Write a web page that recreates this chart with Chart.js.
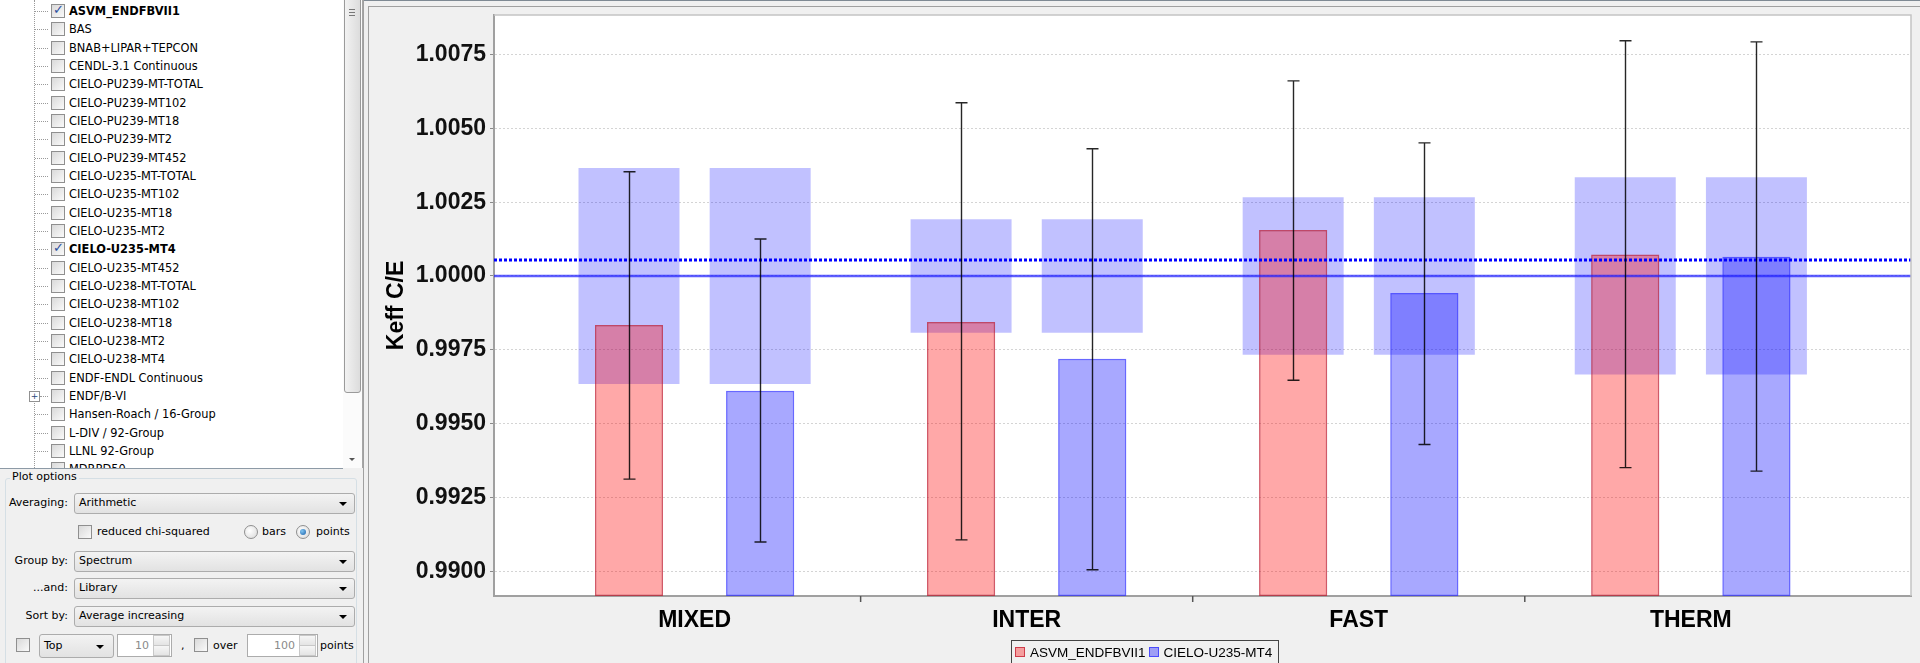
<!DOCTYPE html>
<html><head><meta charset="utf-8">
<script src="https://cdn.jsdelivr.net/npm/chart.js@4.4.1/dist/chart.umd.min.js"></script>
<style>
html,body{margin:0;padding:0;width:1920px;height:663px;overflow:hidden;background:#f0f0f0;font-family:"DejaVu Sans",sans-serif;font-size:11px;color:#000;}
.a{position:absolute;}
#tree{left:0;top:0;width:343px;height:468px;background:#fff;overflow:hidden;border-bottom:1px solid #8d9aa6;font-size:11.4px;}
.vdot{left:34px;top:0;height:468px;border-left:1px dotted #9a9a9a;}
.row{left:0;height:18px;width:343px;}
.hdot{left:35px;top:9px;width:13px;border-top:1px dotted #9a9a9a;}
.cb{width:12px;height:12px;border:1px solid #8f8f8f;background:linear-gradient(135deg,#d9d9d9,#fafafa);}
.cb .ck{position:absolute;left:1px;top:-3px;font-size:13px;color:#2b4f9e;font-weight:bold;}
.lbl{white-space:nowrap;}
.exp{left:29px;top:4px;width:9px;height:9px;border:1px solid #919191;background:#fff;font-size:9px;line-height:9px;text-align:center;color:#2a4a7a;}
#sb{left:343px;top:0;width:19px;height:468px;background:#fbfbfb;border-right:1px solid #a6a6a6;}
#thumb{left:1px;top:-3px;width:15px;height:394px;border:1px solid #9a9a9a;border-radius:3px;background:linear-gradient(90deg,#f2f2f2,#dcdcdc);}
.combo{height:19px;border:1px solid #acacac;border-radius:3px;background:linear-gradient(#f3f3f3,#e2e2e2);}
.combo span{position:absolute;left:4px;top:2px;white-space:nowrap;}
.arr{position:absolute;right:7px;top:8px;width:0;height:0;border-left:4px solid transparent;border-right:4px solid transparent;border-top:4px solid #000;}
.rlab{text-align:right;white-space:nowrap;}
.radio{width:12px;height:12px;border:1px solid #8f8f8f;border-radius:50%;background:radial-gradient(circle at 40% 40%,#fff,#d8d8d8);}
.spin{height:21px;border:1px solid #acacac;background:#fff;color:#8a8a8a;}
.spin .v{position:absolute;right:22px;top:4px;}
.spin .b{position:absolute;right:1px;width:15px;height:9px;border:1px solid #c8c8c8;background:linear-gradient(#f6f6f6,#e4e4e4);}
#chartwrap{left:370px;top:7px;width:1550px;height:656px;}
#legend{left:1011px;top:640px;width:266px;height:24px;border:1.5px solid #444;font-family:"Liberation Sans",Arial,sans-serif;font-size:13.5px;white-space:nowrap;}
#legend .sw{display:inline-block;width:8px;height:8px;vertical-align:middle;margin:0 5px 0 3px;position:relative;top:-1px;}
</style></head>
<body>
<div id="tree" class="a"><div class="a vdot"></div></div>
<div id="sb" class="a"><div id="thumb" class="a"></div>
  <div class="a" style="left:6px;top:9px;width:6px;border-top:1px solid #777;"></div>
  <div class="a" style="left:6px;top:12px;width:6px;border-top:1px solid #777;"></div>
  <div class="a" style="left:6px;top:15px;width:6px;border-top:1px solid #777;"></div>
  <div class="a" style="left:6px;top:458px;width:0;height:0;border-left:3px solid transparent;border-right:3px solid transparent;border-top:3px solid #555;"></div>
</div>
<div class="a" style="left:363px;top:0;width:1px;height:663px;background:#a0a0a0;"></div>
<div class="a" style="left:368px;top:6px;width:1px;height:657px;background:#a0a0a0;"></div>
<div class="a" style="left:364px;top:0;width:1556px;height:1px;background:#7f8a94;"></div>
<div class="a" style="left:368px;top:6px;width:1552px;height:1px;background:#a0a0a0;"></div>

<!-- plot options -->
<div class="a" style="left:5px;top:478px;width:350px;height:200px;border:1px solid #d5dfe5;border-radius:3px;"></div>
<div class="a" style="left:10px;top:470px;background:#f0f0f0;padding:0 2px;">Plot options</div>
<div class="a rlab" style="left:0;width:68px;top:496px;">Averaging:</div>
<div class="a combo" style="left:74px;top:493px;width:279px;"><span>Arithmetic</span><div class="arr"></div></div>
<div class="a cb" style="left:78px;top:525px;"></div>
<div class="a" style="left:97px;top:525px;">reduced chi-squared</div>
<div class="a radio" style="left:244px;top:525px;"></div>
<div class="a" style="left:262px;top:525px;">bars</div>
<div class="a radio" style="left:296px;top:525px;"><div class="a" style="left:3px;top:3px;width:6px;height:6px;border-radius:50%;background:radial-gradient(circle at 35% 35%,#7fc4f2,#1a5fa8);"></div></div>
<div class="a" style="left:316px;top:525px;">points</div>
<div class="a rlab" style="left:0;width:68px;top:554px;">Group by:</div>
<div class="a combo" style="left:74px;top:551px;width:279px;"><span>Spectrum</span><div class="arr"></div></div>
<div class="a rlab" style="left:0;width:68px;top:581px;">...and:</div>
<div class="a combo" style="left:74px;top:578px;width:279px;"><span>Library</span><div class="arr"></div></div>
<div class="a rlab" style="left:0;width:68px;top:609px;">Sort by:</div>
<div class="a combo" style="left:74px;top:606px;width:279px;"><span>Average increasing</span><div class="arr"></div></div>
<div class="a cb" style="left:16px;top:638px;"></div>
<div class="a combo" style="left:39px;top:634px;width:73px;height:22px;"><span style="top:4px;">Top</span><div class="arr" style="top:10px;right:9px;"></div></div>
<div class="a spin" style="left:117px;top:634px;width:53px;"><span class="v">10</span><div class="b" style="top:0;"></div><div class="b" style="top:10px;"></div></div>
<div class="a" style="left:181px;top:639px;">,</div>
<div class="a cb" style="left:194px;top:638px;"></div>
<div class="a" style="left:213px;top:639px;">over</div>
<div class="a spin" style="left:247px;top:634px;width:69px;"><span class="v">100</span><div class="b" style="top:0;"></div><div class="b" style="top:10px;"></div></div>
<div class="a" style="left:320px;top:639px;">points</div>

<div id="chartwrap" class="a"><canvas id="chart" width="1550" height="656"></canvas></div>
<div id="legend" class="a"></div>

<script>
// ---- chart data ----
const categories = ['MIXED', 'INTER', 'FAST', 'THERM'];
const seriesNames = ['ASVM_ENDFBVII1', 'CIELO-U235-MT4'];
const asvmValues   = [0.99834, 0.99844, 1.00156, 1.00073];
const asvmErrLow   = [0.99312, 0.99106, 0.99647, 0.99351];
const asvmErrHigh  = [1.00353, 1.00587, 1.00661, 1.00797];
const cieloValues  = [0.99611, 0.99720, 0.99942, 1.00065];
const cieloErrLow  = [0.99099, 0.99005, 0.99429, 0.99339];
const cieloErrHigh = [1.00125, 1.00431, 1.00451, 1.00793];
const bandLow  = [0.99634, 0.99808, 0.99733, 0.99666];
const bandHigh = [1.00366, 1.00192, 1.00267, 1.00334];
const refLines = [1.0000, 1.00054];
const yTickValues = [0.9900, 0.9925, 0.9950, 0.9975, 1.0000, 1.0025, 1.0050, 1.0075];
const yMin = 0.98916, yMax = 1.00884;
const xMin = -0.604, xMax = 3.663;
const libraries = ['ASVM_ENDFBVII1','BAS','BNAB+LIPAR+TEPCON','CENDL-3.1 Continuous','CIELO-PU239-MT-TOTAL','CIELO-PU239-MT102','CIELO-PU239-MT18','CIELO-PU239-MT2','CIELO-PU239-MT452','CIELO-U235-MT-TOTAL','CIELO-U235-MT102','CIELO-U235-MT18','CIELO-U235-MT2','CIELO-U235-MT4','CIELO-U235-MT452','CIELO-U238-MT-TOTAL','CIELO-U238-MT102','CIELO-U238-MT18','CIELO-U238-MT2','CIELO-U238-MT4','ENDF-ENDL Continuous','ENDF/B-VI','Hansen-Roach / 16-Group','L-DIV / 92-Group','LLNL 92-Group','MDRPD50'];

// ---- tree ----
const tree = document.getElementById('tree');
libraries.forEach((name, i) => {
  const row = document.createElement('div');
  row.className = 'a row';
  row.style.top = (2 + i * 18.33) + 'px';
  const checked = seriesNames.includes(name);
  const expandable = name === 'ENDF/B-VI';
  row.innerHTML = (expandable ? '<div class="a exp">+</div><div class="a hdot" style="left:40px;width:8px;"></div>' : '<div class="a hdot"></div>') +
    '<div class="a cb" style="left:51px;top:2px;">' + (checked ? '<span class="ck">\u2713</span>' : '') + '</div>' +
    '<div class="a lbl" style="left:69px;top:2px;' + (checked ? 'font-weight:bold;' : '') + '"></div>';
  row.querySelector('.lbl').textContent = name;
  tree.appendChild(row);
});

// ---- legend ----
const seriesFill = ['rgba(255,0,0,0.34)', 'rgba(0,0,255,0.34)'];
const seriesBorder = ['rgba(190,20,40,0.7)', 'rgba(40,40,255,0.7)'];
const legend = document.getElementById('legend');
legend.innerHTML = seriesNames.map((n, k) =>
  '<span style="position:relative;top:4px;"><span class="sw" style="background:' + seriesFill[k] + ';border:1.5px solid ' + seriesBorder[k] + ';"></span>' + n + '</span>').join('');

// ---- chart ----
Chart.defaults.font.family = "'Liberation Sans', Arial, sans-serif";
const idx = categories.map((c, i) => i);
const barCat = 0.79;

const overlayPlugin = {
  id: 'overlays',
  beforeDraw(chart) {
    const {ctx, chartArea: a} = chart;
    ctx.save();
    ctx.fillStyle = '#ffffff';
    ctx.fillRect(a.left, a.top, a.right - a.left, a.bottom - a.top);
    ctx.restore();
  },
  afterDatasetsDraw(chart) {
    const {ctx, chartArea: a, scales: {y}} = chart;
    ctx.save();
    ctx.beginPath();
    ctx.rect(a.left, a.top, a.right - a.left, a.bottom - a.top);
    ctx.clip();
    const y0 = y.getPixelForValue(refLines[0]);
    ctx.strokeStyle = 'rgba(30,30,255,0.72)';
    ctx.lineWidth = 2.5;
    ctx.beginPath(); ctx.moveTo(a.left, y0); ctx.lineTo(a.right, y0); ctx.stroke();
    const y1 = y.getPixelForValue(refLines[1]);
    ctx.strokeStyle = '#0000ff';
    ctx.lineWidth = 3;
    ctx.setLineDash([3, 2]);
    ctx.beginPath(); ctx.moveTo(a.left, y1); ctx.lineTo(a.right, y1); ctx.stroke();
    ctx.setLineDash([]);
    [[2, asvmErrLow, asvmErrHigh], [3, cieloErrLow, cieloErrHigh]].forEach(([di, lo, hi]) => {
      chart.getDatasetMeta(di).data.forEach((bar, i) => {
        const px = Math.round(bar.x) + 0.5;
        const ph = y.getPixelForValue(hi[i]), pl = y.getPixelForValue(lo[i]);
        ctx.strokeStyle = 'rgba(0,0,0,0.85)';
        ctx.lineWidth = 1.4;
        ctx.beginPath();
        ctx.moveTo(px, ph); ctx.lineTo(px, pl);
        ctx.moveTo(px - 6, ph); ctx.lineTo(px + 6, ph);
        ctx.moveTo(px - 6, pl); ctx.lineTo(px + 6, pl);
        ctx.stroke();
      });
    });
    ctx.restore();
  },
  afterDraw(chart) {
    const {ctx, chartArea: a, scales: {x}} = chart;
    ctx.save();
    ctx.strokeStyle = '#c4c4c4';
    ctx.lineWidth = 1.5;
    ctx.beginPath();
    ctx.moveTo(a.left, a.top); ctx.lineTo(a.right, a.top); ctx.lineTo(a.right, a.bottom);
    ctx.stroke();
    ctx.strokeStyle = '#555';
    ctx.lineWidth = 1.5;
    for (let i = 0; i < categories.length - 1; i++) {
      const px = x.getPixelForValue(i + 0.5);
      ctx.beginPath(); ctx.moveTo(px, a.bottom); ctx.lineTo(px, a.bottom + 6); ctx.stroke();
    }
    ctx.restore();
  }
};

const noPad = (s) => { s.paddingTop = 0; s.paddingBottom = 0; s.paddingLeft = 0; s.paddingRight = 0; };

new Chart(document.getElementById('chart'), {
  type: 'bar',
  data: {
    datasets: [
      { label: 'band ' + seriesNames[0], data: idx.map(i => ({x: i, y: [bandLow[i], bandHigh[i]]})),
        stack: 's0', order: 2, backgroundColor: 'rgba(0,0,255,0.245)', borderWidth: 0,
        barPercentage: 0.77, categoryPercentage: barCat },
      { label: 'band ' + seriesNames[1], data: idx.map(i => ({x: i, y: [bandLow[i], bandHigh[i]]})),
        stack: 's1', order: 2, backgroundColor: 'rgba(0,0,255,0.245)', borderWidth: 0,
        barPercentage: 0.77, categoryPercentage: barCat },
      { label: seriesNames[0], data: idx.map(i => ({x: i, y: asvmValues[i]})), base: yMin,
        stack: 's0', order: 1, backgroundColor: seriesFill[0], borderColor: seriesBorder[0],
        borderWidth: 1.5, borderSkipped: false, barPercentage: 0.52, categoryPercentage: barCat },
      { label: seriesNames[1], data: idx.map(i => ({x: i, y: cieloValues[i]})), base: yMin,
        stack: 's1', order: 1, backgroundColor: seriesFill[1], borderColor: seriesBorder[1],
        borderWidth: 1.5, borderSkipped: false, barPercentage: 0.52, categoryPercentage: barCat }
    ]
  },
  options: {
    responsive: false,
    animation: false,
    events: [],
    layout: { padding: { left: 0, top: 8, right: 9, bottom: 0 } },
    plugins: { legend: { display: false }, tooltip: { enabled: false } },
    scales: {
      x: {
        type: 'linear', min: xMin, max: xMax, offset: false,
        afterBuildTicks: (s) => { s.ticks = idx.map(i => ({value: i})); },
        afterFit: (s) => { s.height = 67; noPad(s); },
        ticks: { callback: (v) => categories[Math.round(v)], autoSkip: false, maxRotation: 0,
                 padding: 11, color: '#000', font: { size: 23, weight: 'bold' } },
        grid: { display: false, drawTicks: false },
        border: { display: true, color: '#a0a0a0', width: 2 }
      },
      y: {
        type: 'linear', min: yMin, max: yMax, stacked: false,
        afterBuildTicks: (s) => { s.ticks = yTickValues.map(v => ({value: v})); },
        afterFit: (s) => { s.width = 124; noPad(s); },
        ticks: { callback: (v) => v.toFixed(4), padding: 4, color: '#111', font: { size: 23, weight: 'bold' } },
        grid: { color: '#d4d4d4', lineWidth: 1, tickColor: '#8a8a8a', tickLength: 4, tickBorderDash: [] },
        border: { display: true, color: '#a0a0a0', width: 2, dash: [2, 2] },
        title: { display: true, text: 'Keff C/E', color: '#000', font: { size: 23, weight: 'bold' },
                 padding: { top: 13, bottom: 0 } }
      }
    }
  },
  plugins: [overlayPlugin]
});
</script>
</body></html>
